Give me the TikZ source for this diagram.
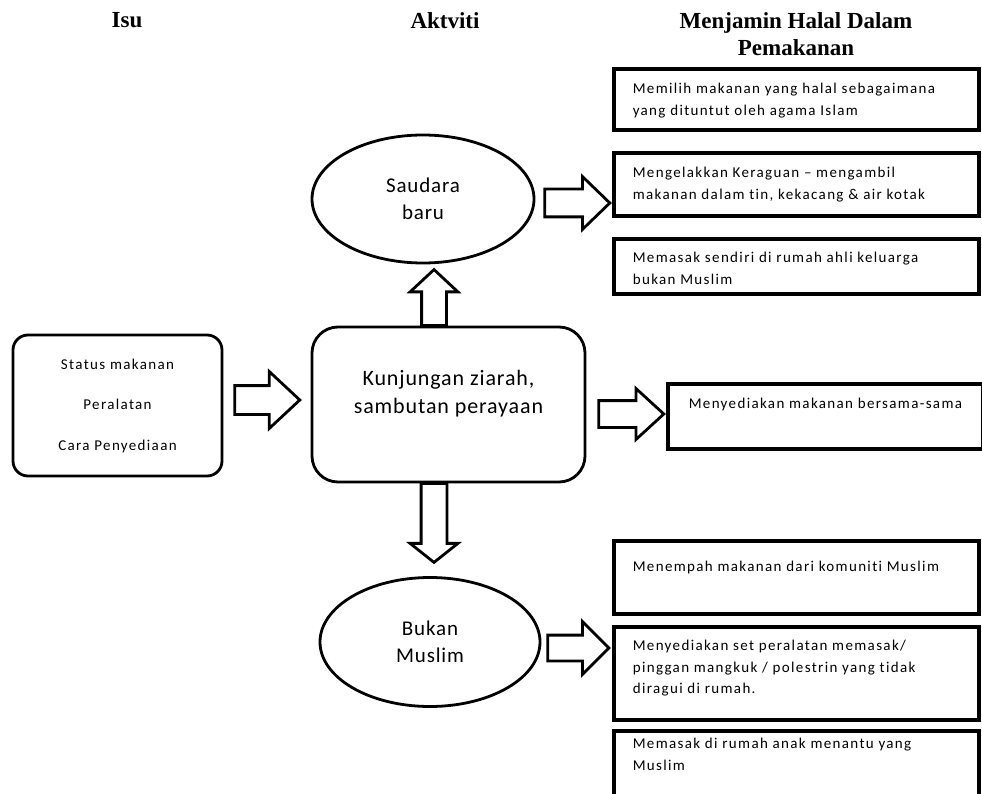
\documentclass[tikz,border=0pt]{standalone}
\usepackage{fontspec}
\setmainfont{Carlito}
\newfontfamily\hdrfont{Liberation Serif}
\newfontfamily\bodyfont[LetterSpace=9,Ligatures=CommonOff]{Carlito}
\newfontfamily\bigfont[LetterSpace=4,Ligatures=CommonOff]{Carlito}
\usetikzlibrary{shapes.geometric,shapes.arrows,calc}
\newcommand\bxt[4]{\parbox[t][#2][t]{#1}{\raggedright\leftskip=19pt\bodyfont\fontsize{15}{21.5}\selectfont\rule{0pt}{#3}#4}}
\newcommand\bxc[5]{\parbox[t][#2][t]{#1}{\centering\bigfont\fontsize{22}{#4}\selectfont\rule{0pt}{#3}#5}}
\begin{document}
\begin{tikzpicture}[x=1pt,y=-1pt,
  hdr/.style={font={\hdrfont\bfseries\fontsize{23}{27}\selectfont}, align=center, inner sep=0pt, anchor=north},
  tbox/.style={draw, line width=3.6pt, inner sep=0pt, anchor=north west},
  rbox/.style={draw, line width=2.8pt, rounded corners=#1, inner sep=0pt, align=center},
  oval/.style={ellipse, draw, line width=2.8pt, inner sep=0pt, align=center,
    font={\bigfont\fontsize{21}{27}\selectfont}},
  blk/.style={single arrow, draw, line width=2.8pt, inner xsep=0pt, fill=white,
    single arrow head indent=0pt, anchor=tail}]
\useasboundingbox (0,0) rectangle (982,794);
\fill[white] (0,0) rectangle (982,794);

% headers
\node[hdr] (h1) at (127,12) {Isu};
\node[hdr] (h2) at (445,12) {Aktviti};
\node[hdr] (h3) at (796,12) {Menjamin Halal Dalam\\Pemakanan};

% left and centre
\node[rbox=15pt, minimum width=209pt, minimum height=141pt,
  font={\bodyfont\fontsize{15}{40.5}\selectfont}] (isu) at (117.5,405.5)
  {Status makanan\\Peralatan\\Cara Penyediaan};
\node[rbox=26pt] (kunj) at (448.5,404.5)
  {\bxc{273pt}{155pt}{58pt}{28pt}{Kunjungan ziarah,\\sambutan perayaan}};

% ellipses
\node[oval, minimum width=222pt, minimum height=128pt] (saudara) at (423,199) {Saudara\\baru};
\node[oval, minimum width=220pt, minimum height=129pt] (bukan) at (430,642) {Bukan\\Muslim};

% right boxes
\node[tbox] (b1) at (612,67) {\bxt{365pt}{61pt}{25pt}{Memilih makanan yang halal sebagaimana\\yang dituntut oleh agama Islam}};
\node[tbox] (b2) at (612,151) {\bxt{365pt}{63pt}{25pt}{Mengelakkan Keraguan – mengambil\\makanan dalam tin, kekacang \& air kotak}};
\node[tbox] (b3) at (612,237) {\bxt{365pt}{55pt}{24pt}{Memasak sendiri di rumah ahli keluarga\\bukan Muslim}};
\node[tbox] (bm) at (666,382) {\bxt{315pt}{65pt}{25pt}{\leftskip=21pt Menyediakan makanan bersama-sama}};
\node[tbox] (b4) at (612,539) {\bxt{365pt}{73pt}{31pt}{Menempah makanan dari komuniti Muslim}};
\node[tbox] (b5) at (612,625) {\bxt{365pt}{93pt}{24pt}{Menyediakan set peralatan memasak/\\pinggan mangkuk / polestrin yang tidak\\diragui di rumah.}};
\node[tbox] (b6) at (612,729) {\bxt{365pt}{72pt}{18pt}{Memasak di rumah anak menantu yang\\Muslim}};

% block arrows
\node[blk, minimum height=65pt, minimum width=54pt, inner ysep=13pt, single arrow head extend=14pt,
  single arrow tip angle=86] (a1) at ($(isu.east)+(10,-5.5)$) {};
\node[blk, minimum height=65pt, minimum width=48pt, inner ysep=12pt, single arrow head extend=12pt,
  single arrow tip angle=85] (a2) at ($(kunj.east)+(11,9.5)$) {};
\node[blk, minimum height=65pt, minimum width=50pt, inner ysep=12.5pt, single arrow head extend=12.5pt,
  single arrow tip angle=88] (a3) at ($(saudara.east)+(8,4)$) {};
\node[blk, minimum height=61pt, minimum width=50pt, inner ysep=11.5pt, single arrow head extend=13.5pt,
  single arrow tip angle=90] (a4) at ($(bukan.east)+(5,6)$) {};
\node[blk, rotate=90, minimum height=56pt, minimum width=45pt, inner ysep=11pt, single arrow head extend=11.5pt,
  single arrow tip angle=94] (au) at ($(kunj.north)+(-14.5,1.4)$) {};
\node[blk, rotate=-90, minimum height=79pt, minimum width=45pt, inner ysep=11.5pt, single arrow head extend=11pt,
  single arrow tip angle=103] (ad) at ($(kunj.south)+(-14.5,-1.4)$) {};
\end{tikzpicture}
\end{document}
